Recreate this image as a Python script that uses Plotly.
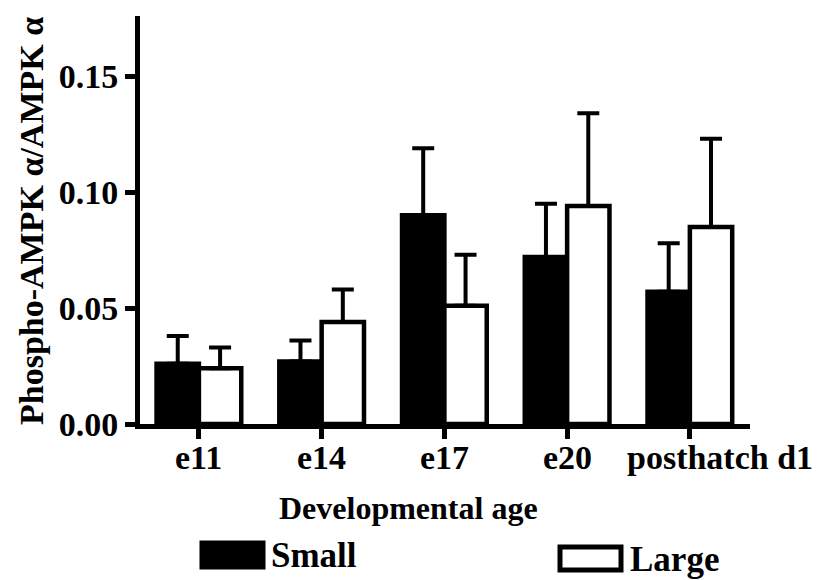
import plotly.graph_objects as go

categories = ["e11", "e14", "e17", "e20", "posthatch d1"]
tick_labels = ["e11", "e14", "e17", "e20", "posthatch d1"]
small_vals = [0.026, 0.027, 0.090, 0.072, 0.057]
small_err = [0.012, 0.009, 0.029, 0.023, 0.021]
large_vals = [0.024, 0.044, 0.051, 0.094, 0.085]
large_err = [0.009, 0.014, 0.022, 0.040, 0.038]
y_ticks = [0.00, 0.05, 0.10, 0.15]
y_tick_text = ["0.00", "0.05", "0.10", "0.15"]

FONT = "Liberation Serif"
W, H = 817, 580
L, R, T, B = 140, 67, 16, 156
PW, PH = W - L - R, H - T - B


def px2x(px):
    return (px - L) / PW


def px2y(py):
    return (H - B - py) / PH


fig = go.Figure()
fig.add_trace(go.Bar(
    name="Small", x=categories, y=small_vals,
    marker=dict(color="black", line=dict(color="black", width=4.5)),
    error_y=dict(type="data", array=small_err, arrayminus=[0] * len(small_err),
                 symmetric=False, color="black", thickness=4, width=11),
))
fig.add_trace(go.Bar(
    name="Large", x=categories, y=large_vals,
    marker=dict(color="white", line=dict(color="black", width=4.5)),
    error_y=dict(type="data", array=large_err, arrayminus=[0] * len(large_err),
                 symmetric=False, color="black", thickness=4, width=11),
))

fig.update_layout(
    width=W, height=H,
    margin=dict(l=L, r=R, t=T, b=B, pad=0, autoexpand=False),
    paper_bgcolor="white", plot_bgcolor="white",
    barmode="group", bargap=0.31, bargroupgap=0,
    showlegend=False,
    font=dict(family=FONT, color="black"),
    xaxis=dict(
        type="category", range=[-0.48, 4.49], automargin=False,
        tickmode="array", tickvals=categories, showticklabels=False,
        showline=True, linecolor="black", linewidth=5,
        ticks="outside", ticklen=10, tickwidth=5, tickcolor="black",
        showgrid=False, zeroline=False,
    ),
    yaxis=dict(
        range=[0, 0.176], automargin=False,
        tickmode="array", tickvals=y_ticks, ticktext=y_tick_text,
        showline=True, linecolor="black", linewidth=5,
        ticks="outside", ticklen=10, tickwidth=5, tickcolor="black",
        tickfont=dict(family=FONT, size=34, color="black", weight="bold"),
        showgrid=False, zeroline=False,
    ),
)

# category labels (last one sits right of its tick, as in the reference)
label_shift = [0, 0, 0, 0, 30]
for cat, lab, sh in zip(categories, tick_labels, label_shift):
    fig.add_annotation(
        text="<b>%s</b>" % lab, xref="x", yref="paper",
        x=cat, y=px2y(457), xanchor="center", yanchor="middle", xshift=sh,
        showarrow=False, font=dict(family=FONT, size=34, color="black"),
    )

# axis titles
fig.add_annotation(
    text="<b>Developmental age</b>", xref="paper", yref="paper",
    x=px2x(408), y=px2y(508), xanchor="center", yanchor="middle",
    showarrow=False, font=dict(family=FONT, size=32, color="black"),
)
fig.add_annotation(
    text="<b>Phospho-AMPK α/AMPK α</b>", xref="paper", yref="paper",
    x=px2x(31), y=px2y(221), xanchor="center", yanchor="middle",
    textangle=-90, showarrow=False, font=dict(family=FONT, size=34, color="black"),
)

# legend (drawn manually)
fig.add_shape(type="rect", xref="paper", yref="paper",
              x0=px2x(201), x1=px2x(264), y0=px2y(542), y1=px2y(568),
              fillcolor="black", line=dict(color="black", width=3))
fig.add_annotation(
    text="<b>Small</b>", xref="paper", yref="paper",
    x=px2x(269), y=px2y(555), xanchor="left", yanchor="middle",
    showarrow=False, font=dict(family=FONT, size=35, color="black"),
)
fig.add_shape(type="rect", xref="paper", yref="paper",
              x0=px2x(560), x1=px2x(621), y0=px2y(547), y1=px2y(570),
              fillcolor="white", line=dict(color="black", width=5))
fig.add_annotation(
    text="<b>Large</b>", xref="paper", yref="paper",
    x=px2x(628), y=px2y(559), xanchor="left", yanchor="middle",
    showarrow=False, font=dict(family=FONT, size=35, color="black"),
)

fig.write_html("out.html")
